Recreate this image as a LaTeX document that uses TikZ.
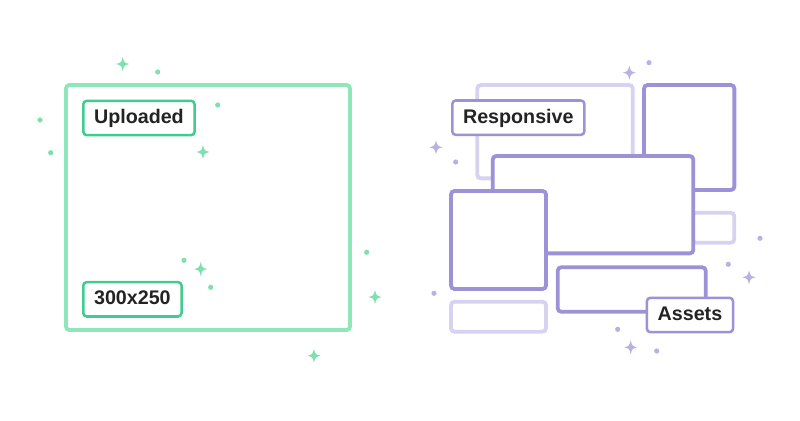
\documentclass[tikz,border=0pt]{standalone}
\usepackage{fontspec}
\setmainfont{Liberation Sans}
\usetikzlibrary{positioning}
\definecolor{cMintD}{HTML}{8FE7B9}
\definecolor{cMintT}{HTML}{40CC8E}
\definecolor{cMintS}{HTML}{7FE0AF}
\definecolor{cLilacD}{HTML}{9D92D8}
\definecolor{cLilacL}{HTML}{D7D2EF}
\definecolor{cLilacS}{HTML}{B9B1E3}
\definecolor{cInk}{HTML}{232323}
\tikzset{
  frame/.style    = {rounded corners=2.5pt, line width=2.7pt, fill=white, inner sep=0pt},
  mintframe/.style  = {frame, draw=cMintD},
  lilacframe/.style = {frame, draw=cLilacD},
  paleframe/.style  = {frame, draw=cLilacL},
  tag/.style      = {rounded corners=2.5pt, line width=1.8pt, fill=white, text=cInk,
                     font=\fontsize{14}{16}\selectfont\bfseries, inner xsep=0.27cm,
                     inner ysep=0pt, minimum height=0.86cm, text height=10.2pt, text depth=2.2pt},
  minttag/.style  = {tag, draw=cMintT},
  lilactag/.style = {tag, draw=cLilacD},
  sparkle/.pic = {
    \fill (0,7) .. controls (1.4,1.4) .. (6.5,0) .. controls (1.4,-1.4) .. (0,-7)
          .. controls (-1.4,-1.4) .. (-6.5,0) .. controls (-1.4,1.4) .. cycle;
  },
}

\begin{document}
\begin{tikzpicture}[x=0.025cm, y=-0.025cm]
  \useasboundingbox (0,0) rectangle (800,420);
  % left: uploaded banner
  \node[mintframe, minimum width=7.1cm, minimum height=6.125cm] (upframe) at (208,207.5) {};
  \node[minttag, anchor=west] (uploaded) at (82,118) {Uploaded};
  \node[minttag, anchor=west] (size) at (82,299.3) {300x250};
  \foreach \x/\y in {122.7/64, 203/152, 200.7/269, 314/355.7, 375/297}
    \path[fill=cMintS] (\x,\y) pic{sparkle};
  \foreach \x/\y in {157.7/72, 217.7/105, 40/120, 50.7/152.7, 184/260.3, 210.7/287.3, 366.7/252.3}
    \fill[cMintS] (\x,\y) circle (2.6);
  % right: responsive assets
  \node[paleframe, minimum width=3.885cm, minimum height=2.333cm] (backbox) at (555,131.7) {};
  \node[lilacframe, minimum width=2.258cm, minimum height=2.625cm] (topbox) at (689.2,137.5) {};
  \node[paleframe, minimum width=1.04cm, minimum height=0.75cm] (sidebox) at (713.5,227.7) {};
  \node[lilacframe, minimum width=5.015cm, minimum height=2.433cm] (midbox) at (593,204.7) {};
  \node[lilacframe, minimum width=2.375cm, minimum height=2.45cm] (sqbox) at (498.5,240) {};
  \node[paleframe, minimum width=2.375cm, minimum height=0.75cm] (footbox) at (498.5,316.7) {};
  \node[lilacframe, minimum width=3.7cm, minimum height=1.11cm] (lowbox) at (631.7,289.5) {};
  \node[lilactag, anchor=west] (responsive) at (451,117.7) {Responsive};
  \node[lilactag, anchor=east] (assets) at (734.3,315) {Assets};
  \foreach \x/\y in {629.3/72.7, 436/147.3, 749/277.3, 630.7/347.3}
    \path[fill=cLilacS] (\x,\y) pic{sparkle};
  \foreach \x/\y in {649/62.7, 455.7/162, 760/238.3, 728.3/264.3, 434/293.3, 617.7/329.3, 656.7/351}
    \fill[cLilacS] (\x,\y) circle (2.6);
\end{tikzpicture}
\end{document}
